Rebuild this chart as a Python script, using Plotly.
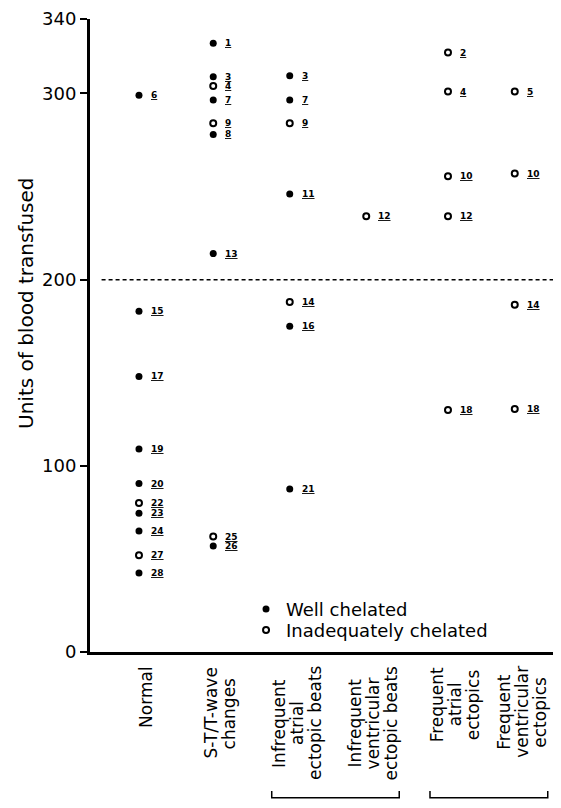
import plotly.graph_objects as go

# ---------------- data ----------------
categories = [
    "Normal",
    "S-T/T-wave<br>changes",
    "Infrequent<br>atrial<br>ectopic beats",
    "Infrequent<br>ventricular<br>ectopic beats",
    "Frequent<br>atrial<br>ectopics",
    "Frequent<br>ventricular<br>ectopics",
]

# group index of each patient point (into categories)
point_group = [0, 0, 0, 0, 0, 0, 0, 0, 0, 0,
               1, 1, 1, 1, 1, 1, 1, 1, 1,
               2, 2, 2, 2, 2, 2, 2,
               3,
               4, 4, 4, 4, 4,
               5, 5, 5, 5]
patient_no = [6, 15, 17, 19, 20, 22, 23, 24, 27, 28,
              1, 3, 4, 7, 9, 8, 13, 25, 26,
              3, 7, 9, 11, 14, 16, 21,
              12,
              2, 4, 10, 12, 18,
              5, 10, 14, 18]
units_transfused = [299, 183, 148, 109, 90.5, 80, 74.5, 65, 52, 42.5,
                    327, 309, 304, 296.5, 284, 278, 214, 62, 57,
                    309.5, 296.5, 284, 246, 188, 175, 87.5,
                    234,
                    322, 301, 255.5, 234, 130,
                    301, 257, 186.5, 130.5]
# True = well chelated (filled), False = inadequately chelated (open)
well_chelated = [True, True, True, True, True, False, True, True, False, True,
                 True, True, False, True, False, True, True, False, True,
                 True, True, False, True, False, True, True,
                 False,
                 False, False, False, False, False,
                 False, False, False, False]

y_ticks = [0, 100, 200, 300, 340]
threshold = 200
bracket_groups = [[2, 3], [4, 5]]

# ---------------- layout constants ----------------
FONT = "DejaVu Sans"
COL_X = [1.0, 1.99, 3.01, 4.03, 5.12, 6.01]   # column positions on x axis
PX_PER_UNIT = 75.0
LABEL_SHIFT_PX = 7
LINE_GAP_PX = 18
CAT_FONT = 17

# approximate DejaVu Sans advance widths (per 1000 em) for centring lines
_W = dict(a=613, b=635, c=550, d=635, e=615, f=352, g=635, h=634, i=278,
          j=278, k=579, l=278, m=974, n=634, o=612, p=635, q=635, r=411,
          s=521, t=392, u=634, v=592, w=818, x=592, y=592, z=525)
_W.update({" ": 318, "-": 361, "/": 337, "S": 635, "T": 611, "I": 295,
           "F": 575, "N": 748})


def text_len(s, size):
    return sum(_W.get(ch, 600) for ch in s) / 1000.0 * size


fig = go.Figure()

for flag, name, sym, lg in [(True, "Well chelated", "circle", "legend"),
                            (False, "Inadequately chelated", "circle-open", "legend2")]:
    xs = [COL_X[g] for g, w in zip(point_group, well_chelated) if w == flag]
    ys = [v for v, w in zip(units_transfused, well_chelated) if w == flag]
    fig.add_trace(go.Scatter(
        x=xs, y=ys, mode="markers", name=name, legend=lg,
        marker=dict(symbol=sym, size=7 if flag else 6, color="black",
                    line=dict(color="black", width=2 if not flag else 0)),
        cliponaxis=False,
    ))

annotations = []
# patient numbers, underlined, to the right of each point
for g, n, v in zip(point_group, patient_no, units_transfused):
    annotations.append(dict(
        x=COL_X[g], y=v, xref="x", yref="y", text="<u>%d</u>" % n,
        showarrow=False, xanchor="left", yanchor="middle", xshift=10,
        font=dict(family=FONT, size=9, color="black", weight="bold"),
    ))

# category labels, rotated, below the x axis (one annotation per line, centred)
label_span = []
for i, c in enumerate(categories):
    lines = c.split("<br>")
    nl = len(lines)
    maxlen = max(text_len(s, CAT_FONT) for s in lines)
    for j, s in enumerate(lines):
        annotations.append(dict(
            x=COL_X[i], y=0, xref="x", yref="y", text=s, showarrow=False,
            textangle=-90, xanchor="center", yanchor="middle",
            xshift=LABEL_SHIFT_PX + (j - (nl - 1) / 2.0) * LINE_GAP_PX,
            yshift=-(14 + maxlen / 2.0),
            font=dict(family=FONT, size=CAT_FONT, color="black"),
        ))
    half = (nl - 1) / 2.0 * LINE_GAP_PX
    label_span.append((COL_X[i] + (LABEL_SHIFT_PX - half - 7) / PX_PER_UNIT,
                       COL_X[i] + (LABEL_SHIFT_PX + half + 8) / PX_PER_UNIT))

# y axis title
annotations.append(dict(
    x=-0.138, y=0.55, xref="paper", yref="paper",
    text="Units of blood transfused", showarrow=False, textangle=-90,
    xanchor="center", yanchor="middle",
    font=dict(family=FONT, size=20, color="black"),
))

shapes = [dict(type="line", xref="paper", yref="y", x0=0.025, x1=1.005,
               y0=threshold, y1=threshold,
               line=dict(color="black", width=1.5, dash="4px,3px"))]

# brackets under grouped categories
for grp in bracket_groups:
    xa = label_span[grp[0]][0]
    xb = label_span[grp[-1]][1]
    path = "M %f,%f L %f,%f L %f,%f L %f,%f" % (xa, -0.2194, xa, -0.2304,
                                               xb, -0.2304, xb, -0.2194)
    shapes.append(dict(type="path", xref="x", yref="paper", path=path,
                       line=dict(color="black", width=1.5)))

legend_common = dict(xanchor="left", yanchor="top", bgcolor="rgba(0,0,0,0)",
                     font=dict(family=FONT, size=18, color="black"),
                     itemwidth=30, borderwidth=0)

fig.update_layout(
    width=545, height=792, autosize=False,
    margin=dict(l=82, r=0, t=6, b=148),
    paper_bgcolor="white", plot_bgcolor="white",
    font=dict(family=FONT, color="black"),
    showlegend=True,
    legend=dict(x=0.337, y=0.0966, **legend_common),
    legend2=dict(x=0.337, y=0.0636, **legend_common),
    annotations=annotations,
    shapes=shapes,
    xaxis=dict(range=[0.347, 6.52], showgrid=False, zeroline=False,
               showline=True, linecolor="black", linewidth=3,
               showticklabels=False, ticks=""),
    yaxis=dict(range=[0, 340], showgrid=False, zeroline=False,
               showline=True, linecolor="black", linewidth=3,
               tickvals=y_ticks, ticks="outside", ticklen=7, tickwidth=2,
               tickcolor="black", ticklabeloverflow="allow",
               tickfont=dict(family=FONT, size=18)),
)

fig.write_html("out.html")
